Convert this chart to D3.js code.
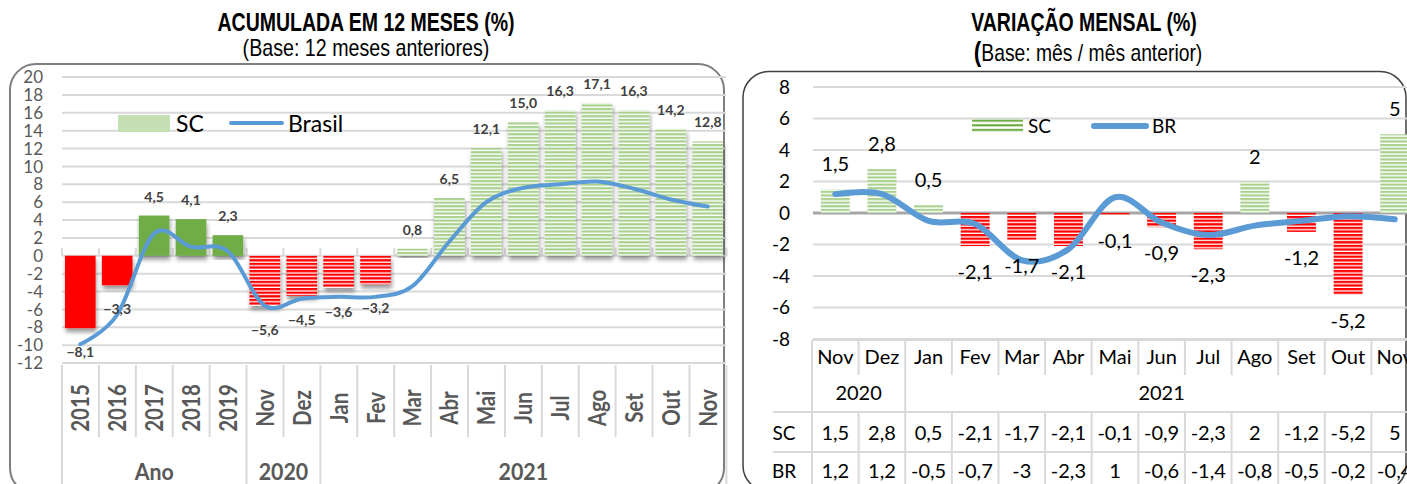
<!DOCTYPE html>
<html>
<head>
<meta charset="utf-8">
<script src="https://cdn.jsdelivr.net/npm/d3@7"></script>
<style>
  body { margin: 0; background: #fff; }
  text { font-family: Lato, "Open Sans", sans-serif; }
  .ttl { font-family: "Liberation Sans", Arial, sans-serif; }
</style>
</head>
<body>
<script>
////////////////////////////////////////////////////////////////////////////////////
// Data - left chart (acumulado 12 meses)
var accCats   = ["2015","2016","2017","2018","2019","Nov","Dez","Jan","Fev","Mar","Abr","Mai","Jun","Jul","Ago","Set","Out","Nov"];
var accGroups = ["Ano","Ano","Ano","Ano","Ano","2020","2020","2021","2021","2021","2021","2021","2021","2021","2021","2021","2021","2021"];
var accSC     = [-8.1,-3.3,4.5,4.1,2.3,-5.6,-4.5,-3.6,-3.2,0.8,6.5,12.1,15.0,16.3,17.1,16.3,14.2,12.8];
var accBrasil = [-9.9,-6.6,2.5,1.0,0.5,-5.6,-4.8,-4.6,-4.6,-3.4,1.6,6.0,7.6,8.0,8.3,7.5,6.3,5.5];
var accTicks  = [-12,-10,-8,-6,-4,-2,0,2,4,6,8,10,12,14,16,18,20];

// Data - right chart (variacao mensal)
var monCats   = ["Nov","Dez","Jan","Fev","Mar","Abr","Mai","Jun","Jul","Ago","Set","Out","Nov"];
var monGroups = ["2020","2020","2021","2021","2021","2021","2021","2021","2021","2021","2021","2021","2021"];
var monSC     = [1.5,2.8,0.5,-2.1,-1.7,-2.1,-0.1,-0.9,-2.3,2,-1.2,-5.2,5];
var monBR     = [1.2,1.2,-0.5,-0.7,-3,-2.3,1,-0.6,-1.4,-0.8,-0.5,-0.2,-0.4];
var monTicks  = [-8,-6,-4,-2,0,2,4,6,8];

////////////////////////////////////////////////////////////////////////////////////
var W = 1407, H = 484;
var blue = "#5B9BD5", red = "#FF0000", green = "#70AD47", lightGreen = "#A9D18E";
var grid = "#d9d9d9";

var svg = d3.select("body").append("svg")
            .attr("width", W)
            .attr("height", H);
var defs = svg.append("defs");

// stripe patterns (Excel "horizontal" fills)
function stripes(id, color, h, fillH) {
  var p = defs.append("pattern")
              .attr("id", id)
              .attr("patternUnits", "userSpaceOnUse")
              .attr("width", 8)
              .attr("height", h);
  p.append("rect").attr("width", 8).attr("height", h).attr("fill", "#fff");
  p.append("rect").attr("width", 8).attr("height", fillH).attr("fill", color);
}
stripes("redStripe", red, 3.6, 2.3);
stripes("greenStripe", lightGreen, 3.6, 2.2);
stripes("darkGreenStripe", green, 4.6, 2.2);

var shadow = defs.append("filter").attr("id", "shadow")
                 .attr("x", "-20%").attr("y", "-20%").attr("width", "140%").attr("height", "140%");
shadow.append("feDropShadow")
      .attr("dx", 1).attr("dy", 4).attr("stdDeviation", 2)
      .attr("flood-color", "#000").attr("flood-opacity", 0.4);

// text helper - most of the text in the picture is condensed, so squeeze it with sx
function label(g, x, y, str, o) {
  o = o || {};
  var t = g.append("text")
           .attr("transform", "translate(" + x + "," + y + ") rotate(" + (o.rot || 0) + ") scale(" + (o.sx || 1) + ",1)")
           .attr("text-anchor", o.anchor || "middle")
           .style("font-size", (o.size || 16) + "px")
           .style("font-weight", o.bold ? "bold" : "normal")
           .style("fill", o.color || "#000")
           .text(str);
  if (o.cls) t.attr("class", o.cls);
  if (o.dy) t.attr("dy", o.dy);
  return t;
}
function fmt1(v) { return d3.format(".1f")(v).replace(".", ","); }
function fmt(v) { return String(v).replace(".", ","); }

////////////////////////////////////////////////////////////////////////////////////
// Titles
label(svg, 366, 31, "ACUMULADA EM 12 MESES (%)", {size: 25, bold: true, sx: 0.78, cls: "ttl"});
label(svg, 366, 56, "(Base: 12 meses anteriores)", {size: 23, sx: 0.855, cls: "ttl"});
label(svg, 1084, 31, "VARIAÇÃO MENSAL (%)", {size: 25, bold: true, sx: 0.78, cls: "ttl"});
var sub2 = label(svg, 1088, 61, "", {size: 23, sx: 0.84, cls: "ttl"});
sub2.append("tspan").style("font-weight", "bold").style("font-size", "27px").text("(");
sub2.append("tspan").text("Base: mês / mês anterior)");

// Panels
svg.append("rect")
   .attr("x", 10).attr("y", 64).attr("width", 714).attr("height", 430)
   .attr("rx", 26).attr("ry", 26)
   .attr("fill", "none").attr("stroke", "#7f7f7f").attr("stroke-width", 2);
svg.append("rect")
   .attr("x", 743).attr("y", 71.5).attr("width", 663).attr("height", 420)
   .attr("rx", 26).attr("ry", 26)
   .attr("fill", "none").attr("stroke", "#404040").attr("stroke-width", 1.5);

////////////////////////////////////////////////////////////////////////////////////
// LEFT CHART
var gL = svg.append("g");
var xAcc = d3.scaleBand()
             .domain(d3.range(accCats.length))
             .range([62, 726])
             .paddingInner(0.17)
             .paddingOuter(0.08);
var yAcc = d3.scaleLinear()
             .domain([-12, 20])
             .range([363, 77]);
var stepA = xAcc.step(), x0A = xAcc.range()[0];

// gridlines + y labels
gL.selectAll(".gridA")
  .data(accTicks)
  .enter()
  .append("line")
  .attr("x1", 62).attr("x2", 726)
  .attr("y1", function(d) { return yAcc(d); })
  .attr("y2", function(d) { return yAcc(d); })
  .attr("stroke", grid).attr("stroke-width", 2);
accTicks.forEach(function(t) {
  label(gL, 43, yAcc(t), t, {size: 17, anchor: "end", color: "#595959", dy: "0.36em"});
});

// small ticks on the zero line
d3.range(accCats.length + 1).forEach(function(i) {
  gL.append("line")
    .attr("x1", x0A + i * stepA).attr("x2", x0A + i * stepA)
    .attr("y1", yAcc(0) - 8).attr("y2", yAcc(0))
    .attr("stroke", grid).attr("stroke-width", 2);
});

// bars
gL.selectAll(".barA")
  .data(accSC)
  .enter()
  .append("rect")
  .attr("class", "barA")
  .attr("x", function(d, i) { return xAcc(i); })
  .attr("y", function(d) { return yAcc(Math.max(0, d)); })
  .attr("width", xAcc.bandwidth())
  .attr("height", function(d) { return Math.abs(yAcc(d) - yAcc(0)); })
  .attr("filter", "url(#shadow)")
  .attr("fill", function(d, i) {
    if (accGroups[i] == "Ano") { return d < 0 ? red : green; }
    else { return d < 0 ? "url(#redStripe)" : "url(#greenStripe)"; }
  });

// Brasil line
var lineA = d3.line()
              .x(function(d, i) { return xAcc(i) + xAcc.bandwidth() / 2; })
              .y(function(d) { return yAcc(d); })
              .curve(d3.curveCardinal.tension(0));
gL.append("path")
  .datum(accBrasil)
  .attr("d", lineA)
  .attr("fill", "none")
  .attr("stroke", blue)
  .attr("stroke-width", 4)
  .attr("stroke-linecap", "round");

// data labels
accSC.forEach(function(v, i) {
  var cx = xAcc(i) + xAcc.bandwidth() / 2;
  var y = v >= 0 ? yAcc(v) - 14 : yAcc(v) + 29;
  label(gL, cx, y, fmt1(v), {size: 14, bold: true, color: "#404040"});
});

// legend
gL.append("rect").attr("x", 118).attr("y", 115).attr("width", 52).attr("height", 17).attr("fill", "#C5E0B4");
label(gL, 176, 132, "SC", {size: 23, anchor: "start"});
gL.append("line").attr("x1", 231).attr("x2", 282).attr("y1", 123).attr("y2", 123)
  .attr("stroke", blue).attr("stroke-width", 4).attr("stroke-linecap", "round");
label(gL, 288, 132, "Brasil", {size: 23, anchor: "start"});

// category axis (two levels)
d3.range(accCats.length + 1).forEach(function(i) {
  var isGroupEdge = (i == 0 || i == accCats.length || accGroups[i] != accGroups[i - 1]);
  gL.append("line")
    .attr("x1", x0A + i * stepA).attr("x2", x0A + i * stepA)
    .attr("y1", 365).attr("y2", isGroupEdge ? 490 : 437)
    .attr("stroke", grid).attr("stroke-width", 2);
});
accCats.forEach(function(c, i) {
  label(gL, xAcc(i) + xAcc.bandwidth() / 2 + 9, 408, c, {size: 25, bold: true, rot: -90, sx: 0.82, color: "#595959"});
});
var groupsA = d3.groups(accCats.map(function(c, i) { return {g: accGroups[i], i: i}; }), function(d) { return d.g; });
groupsA.forEach(function(gr) {
  var first = gr[1][0].i, last = gr[1][gr[1].length - 1].i;
  var cx = x0A + (first + last + 1) / 2 * stepA;
  label(gL, cx, 480, gr[0], {size: 23, bold: true, sx: 0.93, color: "#595959"});
});

////////////////////////////////////////////////////////////////////////////////////
// RIGHT CHART
var gR = svg.append("g");
var xMon = d3.scaleBand()
             .domain(d3.range(monCats.length))
             .range([812, 1418])
             .paddingInner(0.38)
             .paddingOuter(0.19);
var yMon = d3.scaleLinear()
             .domain([-8, 8])
             .range([339, 87]);
var stepM = xMon.step(), x0M = xMon.range()[0];

gR.selectAll(".gridM")
  .data(monTicks)
  .enter()
  .append("line")
  .attr("x1", 813).attr("x2", W)
  .attr("y1", function(d) { return yMon(d); })
  .attr("y2", function(d) { return yMon(d); })
  .attr("stroke", function(d) { return d == 0 ? "#a6a6a6" : grid; })
  .attr("stroke-width", function(d) { return d == 0 ? 3 : 2; });
monTicks.forEach(function(t) {
  label(gR, 790, yMon(t), t, {size: 19, anchor: "end", dy: "0.36em"});
});

gR.selectAll(".barM")
  .data(monSC)
  .enter()
  .append("rect")
  .attr("class", "barM")
  .attr("x", function(d, i) { return xMon(i); })
  .attr("y", function(d) { return yMon(Math.max(0, d)); })
  .attr("width", xMon.bandwidth())
  .attr("height", function(d) { return Math.abs(yMon(d) - yMon(0)); })
  .attr("fill", function(d) { return d < 0 ? "url(#redStripe)" : "url(#greenStripe)"; });

var lineM = d3.line()
              .x(function(d, i) { return xMon(i) + xMon.bandwidth() / 2; })
              .y(function(d) { return yMon(d); })
              .curve(d3.curveCardinal.tension(0));
gR.append("path")
  .datum(monBR)
  .attr("d", lineM)
  .attr("fill", "none")
  .attr("stroke", blue)
  .attr("stroke-width", 6)
  .attr("stroke-linecap", "round");

monSC.forEach(function(v, i) {
  var cx = xMon(i) + xMon.bandwidth() / 2;
  var y = v >= 0 ? yMon(v) - 18 : yMon(v) + 33;
  label(gR, cx, y, fmt(v), {size: 20});
});

// legend
gR.append("rect").attr("x", 972).attr("y", 119).attr("width", 51).attr("height", 14).attr("fill", "url(#darkGreenStripe)");
label(gR, 1028, 133, "SC", {size: 19, anchor: "start"});
gR.append("line").attr("x1", 1094).attr("x2", 1146).attr("y1", 126).attr("y2", 126)
  .attr("stroke", blue).attr("stroke-width", 6).attr("stroke-linecap", "round");
label(gR, 1152, 133, "BR", {size: 19, anchor: "start"});

// data table under the chart
gR.append("line").attr("x1", 812).attr("x2", W).attr("y1", 340).attr("y2", 340).attr("stroke", grid).attr("stroke-width", 2);
gR.append("line").attr("x1", 773).attr("x2", W).attr("y1", 412).attr("y2", 412).attr("stroke", grid).attr("stroke-width", 2);
gR.append("line").attr("x1", 773).attr("x2", W).attr("y1", 452).attr("y2", 452).attr("stroke", grid).attr("stroke-width", 2);
d3.range(monCats.length + 1).forEach(function(i) {
  var bx = x0M + i * stepM;
  var isGroupEdge = (i == 0 || i == monCats.length || monGroups[i] != monGroups[i - 1]);
  gR.append("line")
    .attr("x1", bx).attr("x2", bx)
    .attr("y1", 340).attr("y2", isGroupEdge ? 412 : 375)
    .attr("stroke", grid).attr("stroke-width", 2);
  gR.append("line")
    .attr("x1", bx).attr("x2", bx)
    .attr("y1", 412).attr("y2", 492)
    .attr("stroke", grid).attr("stroke-width", 2);
});
monCats.forEach(function(c, i) {
  var cx = xMon(i) + xMon.bandwidth() / 2;
  label(gR, cx, 364, c, {size: 20});
  label(gR, cx, 440, fmt(monSC[i]), {size: 20});
  label(gR, cx, 478, fmt(monBR[i]), {size: 20});
});
var groupsM = d3.groups(monCats.map(function(c, i) { return {g: monGroups[i], i: i}; }), function(d) { return d.g; });
groupsM.forEach(function(gr) {
  var first = gr[1][0].i, last = gr[1][gr[1].length - 1].i;
  var cx = x0M + (first + last + 1) / 2 * stepM;
  label(gR, cx, 400, gr[0], {size: 20});
});
label(gR, 784, 440, "SC", {size: 19});
label(gR, 784, 478, "BR", {size: 19});
</script>
</body>
</html>
